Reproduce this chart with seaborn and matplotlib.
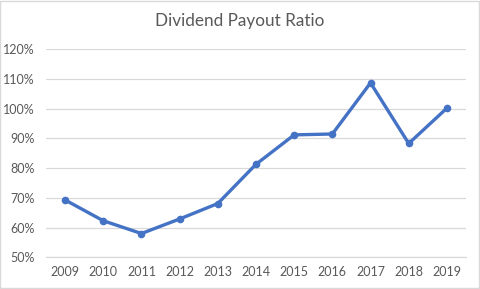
import matplotlib
matplotlib.use("Agg")
import matplotlib.pyplot as plt
import seaborn as sns
import pandas as pd
from matplotlib.ticker import PercentFormatter
from matplotlib.patches import Rectangle

years = ["2009", "2010", "2011", "2012", "2013", "2014", "2015", "2016", "2017", "2018", "2019"]
payout = [0.693, 0.623, 0.580, 0.629, 0.681, 0.813, 0.912, 0.915, 1.087, 0.883, 1.002]
yticks = [0.5, 0.6, 0.7, 0.8, 0.9, 1.0, 1.1, 1.2]

df = pd.DataFrame({"year": years, "payout": payout})

sns.set_style("white")
plt.rcParams["font.family"] = ["Lato", "DejaVu Sans"]

fig = plt.figure(figsize=(4.8, 2.89), dpi=100)
ax = fig.add_axes([0.0958, 0.1097, 0.875, 0.7197])

sns.lineplot(data=df, x="year", y="payout", ax=ax, color="#4472C4",
             linewidth=2.4, marker="o", markersize=5.5, markeredgewidth=0)

ax.set_xlim(-0.5, len(years) - 0.5)
ax.set_ylim(0.5, 1.2)
ax.set_yticks(yticks)
ax.yaxis.set_major_formatter(PercentFormatter(1.0, decimals=0))
ax.grid(axis="y", color="#D9D9D9", linewidth=0.9)
ax.set_axisbelow(True)
for s in ["top", "right", "left"]:
    ax.spines[s].set_visible(False)
ax.spines["bottom"].set_color("#D9D9D9")
ax.spines["bottom"].set_linewidth(0.9)
ax.tick_params(axis="both", length=0, labelsize=9, labelcolor="#595959")
ax.tick_params(axis="x", pad=6)
ax.tick_params(axis="y", pad=8)
ax.set_xlabel("")
ax.set_ylabel("")

fig.text(0.5, 0.927, "Dividend Payout Ratio", ha="center", va="center",
         fontsize=12.3, color="#595959")
fig.patches.append(Rectangle((0.001, 0.002), 0.997, 0.995, transform=fig.transFigure,
                             fill=False, edgecolor="#D9D9D9", linewidth=1))

fig.savefig("out.png", dpi=100)
